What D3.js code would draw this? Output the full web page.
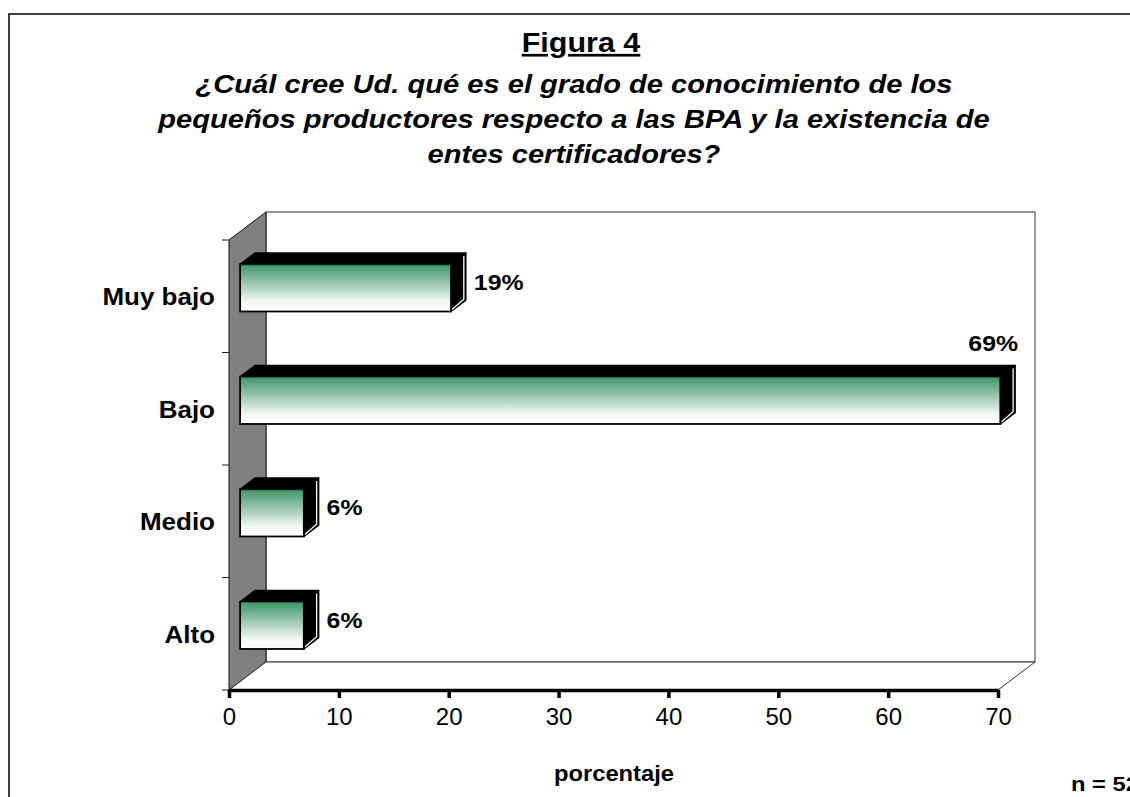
<!DOCTYPE html>
<html>
<head>
<meta charset="utf-8">
<script src="https://cdn.jsdelivr.net/npm/d3@7"></script>
<style>
  body { margin: 0; background: #fff; }
  svg { display: block; font-family: "Liberation Sans", Arial, sans-serif; }
</style>
</head>
<body>
<div id="chart"></div>
<script>
const categories = ['Muy bajo', 'Bajo', 'Medio', 'Alto'];
const values = [19.2, 69.2, 5.8, 5.8];
const labels = ['19%', '69%', '6%', '6%'];
const xTicks = [0, 10, 20, 30, 40, 50, 60, 70];
const titleLines = [
  '¿Cuál cree Ud. qué es el grado de conocimiento de los',
  'pequeños productores respecto a las BPA y la existencia de',
  'entes certificadores?',
];

const width = 1130;
const height = 797;
const plot = { left: 229, right: 998, top: 240, bottom: 690 };
const depth = { dx: 37, dy: -28 };
const barFront = 0.3;
const barBack = 0.7;
const barThickness = 0.42;
// the bold text in the original is drawn a bit wider than Liberation Sans
const stretch = 1.13;

const svg = d3.select('#chart')
  .append('svg')
  .attr('width', width)
  .attr('height', height);

// text placed with a horizontal stretch
function wideText(parent, tx, ty, str, anchor, size, k = stretch) {
  return parent.append('text')
    .attr('transform', `translate(${tx}, ${ty}) scale(${k}, 1)`)
    .attr('text-anchor', anchor)
    .attr('font-size', size)
    .attr('font-weight', 'bold')
    .text(str);
}

const defs = svg.append('defs');
const grad = defs.append('linearGradient')
  .attr('id', 'barFill')
  .attr('x1', 0).attr('y1', 0)
  .attr('x2', 0).attr('y2', 1);
grad.append('stop').attr('offset', '0%').attr('stop-color', '#3b9569');
grad.append('stop').attr('offset', '45%').attr('stop-color', '#a6ccb8');
grad.append('stop').attr('offset', '78%').attr('stop-color', '#f1f7f3');
grad.append('stop').attr('offset', '100%').attr('stop-color', '#ffffff');

// outer frame
svg.append('rect')
  .attr('x', 9)
  .attr('y', 14)
  .attr('width', 1300)
  .attr('height', 1000)
  .attr('fill', 'none')
  .attr('stroke', '#111')
  .attr('stroke-width', 1.6);

// title
wideText(svg, 581, 52, 'Figura 4', 'middle', 27)
  .attr('text-decoration', 'underline');

titleLines.forEach((line, i) => {
  wideText(svg, 574, 93 + i * 35, line, 'middle', 26, 1.12)
    .attr('font-style', 'italic');
});

const x = d3.scaleLinear()
  .domain([0, 70])
  .range([plot.left, plot.right]);

const y = d3.scaleBand()
  .domain(categories)
  .range([plot.top, plot.bottom]);

// walls and floor
const x0 = x(0);
const x70 = x(70);
const { dx, dy } = depth;

svg.append('rect')
  .attr('x', x0 + dx)
  .attr('y', plot.top + dy)
  .attr('width', x70 - x0)
  .attr('height', plot.bottom - plot.top)
  .attr('fill', '#fff')
  .attr('stroke', '#333')
  .attr('stroke-width', 1);

svg.append('polygon')
  .attr('points', [
    [x0, plot.top], [x0 + dx, plot.top + dy],
    [x0 + dx, plot.bottom + dy], [x0, plot.bottom],
  ].join(' '))
  .attr('fill', '#808080')
  .attr('stroke', '#111')
  .attr('stroke-width', 1);

svg.append('polygon')
  .attr('points', [
    [x0, plot.bottom], [x0 + dx, plot.bottom + dy],
    [x70 + dx, plot.bottom + dy], [x70, plot.bottom],
  ].join(' '))
  .attr('fill', '#fff')
  .attr('stroke', '#333')
  .attr('stroke-width', 1);

// y axis ticks
const yTickPos = d3.range(categories.length + 1)
  .map(i => plot.top + i * y.step());

svg.append('g')
  .selectAll('line')
  .data(yTickPos)
  .join('line')
  .attr('x1', x0 - 7)
  .attr('x2', x0)
  .attr('y1', d => d)
  .attr('y2', d => d)
  .attr('stroke', '#222')
  .attr('stroke-width', 1);

categories.forEach(c => {
  wideText(svg, 215, y(c) + y.bandwidth() / 2 + 9, c, 'end', 23);
});

// x axis
const xAxis = d3.axisBottom(x)
  .tickValues(xTicks)
  .tickSize(8)
  .tickPadding(10)
  .tickSizeOuter(0);

const gx = svg.append('g')
  .attr('transform', `translate(0, ${plot.bottom})`)
  .call(xAxis);

gx.select('.domain')
  .attr('stroke', '#000')
  .attr('stroke-width', 3.5);
gx.selectAll('.tick line')
  .attr('stroke', '#000')
  .attr('stroke-width', 3.5);
gx.selectAll('.tick text')
  .attr('fill', '#000')
  .attr('font-size', 24)
  .attr('font-family', '"Liberation Sans", Arial, sans-serif');

wideText(svg, 614, 781, 'porcentaje', 'middle', 22, 1.08);
wideText(svg, 1071, 791, 'n = 52', 'start', 21);

// bars
const bars = categories.map((c, i) => {
  const h = y.bandwidth() * barThickness;
  const cy = y(c) + y.bandwidth() / 2;
  const fx = barFront * dx;
  const fy = barFront * dy;
  const bx = (barBack - barFront) * dx;
  const by = (barBack - barFront) * dy;
  return {
    c,
    label: labels[i],
    left: x0 + fx,
    right: x(values[i]) + fx,
    top: cy - h / 2 + fy,
    bottom: cy + h / 2 + fy,
    bx,
    by,
    mid: cy + 0.5 * dy,
  };
});

const gBars = svg.append('g');

bars.forEach(b => {
  const g = gBars.append('g');
  // top face
  g.append('polygon')
    .attr('points', [
      [b.left, b.top], [b.left + b.bx, b.top + b.by],
      [b.right + b.bx, b.top + b.by], [b.right, b.top],
    ].join(' '))
    .attr('fill', '#000')
    .attr('stroke', '#000')
    .attr('stroke-width', 1.5)
    .attr('stroke-linejoin', 'round');
  // side face
  g.append('polygon')
    .attr('points', [
      [b.right, b.top], [b.right + b.bx, b.top + b.by],
      [b.right + b.bx, b.bottom + b.by], [b.right, b.bottom],
    ].join(' '))
    .attr('fill', '#000')
    .attr('stroke', '#000')
    .attr('stroke-width', 1.5)
    .attr('stroke-linejoin', 'round');
  g.append('polyline')
    .attr('points', [
      [b.right + 1, b.bottom - 2], [b.right + b.bx - 2, b.bottom + b.by - 1],
      [b.right + b.bx - 2, b.top + b.by + 3],
    ].join(' '))
    .attr('fill', 'none')
    .attr('stroke', '#fff')
    .attr('stroke-width', 1.3);
  // front face
  g.append('rect')
    .attr('x', b.left)
    .attr('y', b.top)
    .attr('width', b.right - b.left)
    .attr('height', b.bottom - b.top)
    .attr('fill', 'url(#barFill)')
    .attr('stroke', '#000')
    .attr('stroke-width', 1.8);
  g.append('line')
    .attr('x1', b.left + 1).attr('x2', b.right - 1)
    .attr('y1', b.top + 1).attr('y2', b.top + 1)
    .attr('stroke', '#2f7d55')
    .attr('stroke-width', 1.2);

  // data label, moved above the bar when it would leave the plot
  const end = b.right + b.bx;
  const tooFar = end + 60 > x70 + dx;
  wideText(g,
    tooFar ? end + 3 : end + 8,
    tooFar ? b.top + b.by - 15 : b.mid + 8,
    b.label,
    tooFar ? 'end' : 'start',
    22);
});
</script>
</body>
</html>
